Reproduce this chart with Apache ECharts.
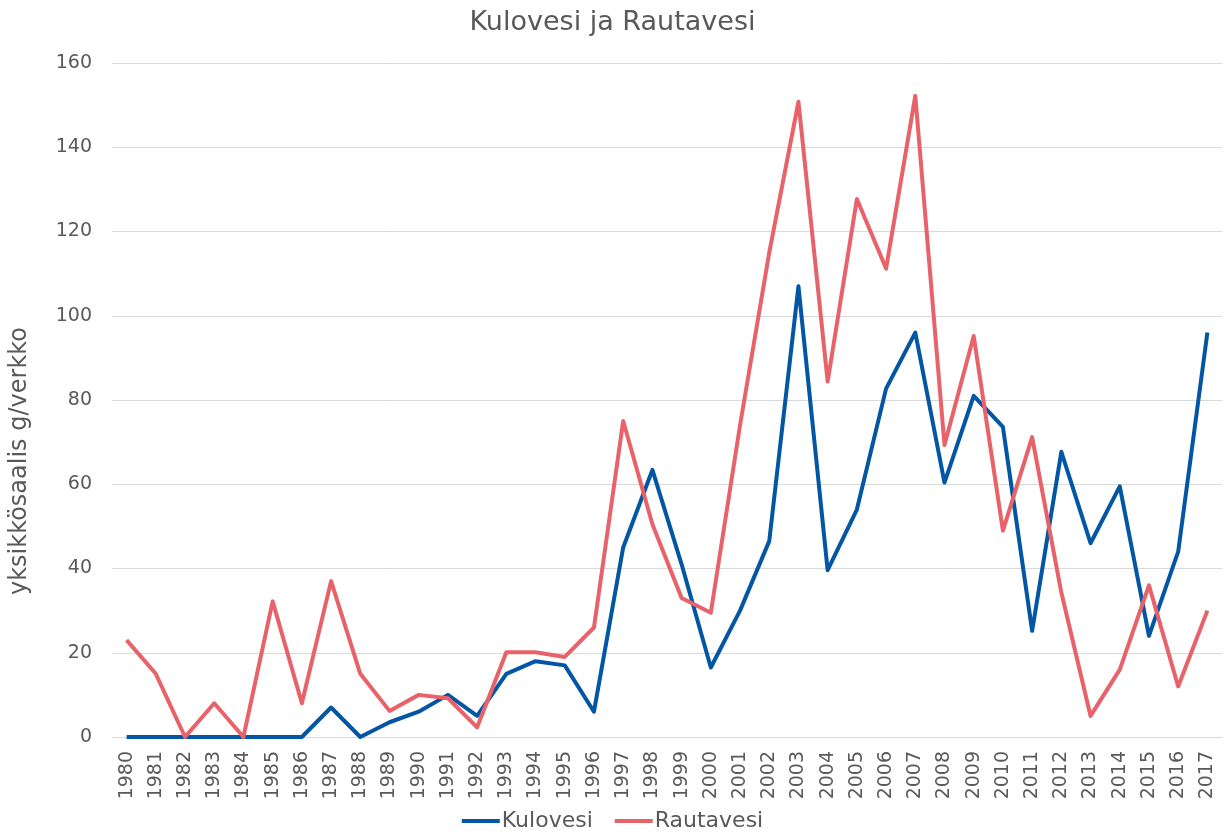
<!DOCTYPE html>
<html>
<head>
<meta charset="utf-8">
<script src="https://cdn.jsdelivr.net/npm/echarts@6/dist/echarts.min.js"></script>
<style>
  html, body { margin: 0; padding: 0; background: #fff; }
  #chart { width: 1225px; height: 839px; }
</style>
</head>
<body>
<div id="chart"></div>
<script>
// vuodet
var years = ['1980', '1981', '1982', '1983', '1984', '1985', '1986', '1987', '1988', '1989',
  '1990', '1991', '1992', '1993', '1994', '1995', '1996', '1997', '1998', '1999',
  '2000', '2001', '2002', '2003', '2004', '2005', '2006', '2007', '2008', '2009',
  '2010', '2011', '2012', '2013', '2014', '2015', '2016', '2017'];

var kulovesi = [0, 0, 0, 0, 0, 0, 0, 7, 0, 3.5,
  6, 10, 5, 15, 18, 17, 6, 45, 63.4, 41,
  16.5, 30, 46.5, 107, 39.6, 54, 82.7, 96, 60.4, 81,
  73.6, 25.2, 67.7, 46, 59.5, 24, 44, 96];

var rautavesi = [23, 15, 0, 8, 0, 32.2, 8, 37, 15, 6.2,
  10, 9.2, 2.3, 20.1, 20.1, 19, 26, 75, 50.5, 33,
  29.5, 74, 115, 150.8, 84.4, 127.7, 111.2, 152.2, 69.3, 95.2,
  49, 71.2, 34.3, 5, 16, 36, 12, 30];

var yTicks = { min: 0, max: 160, interval: 20 };

var textColor = '#595959';
var font = 'DejaVu Sans';

var myChart = echarts.init(document.getElementById('chart'));

var option = {
  animation: false,
  backgroundColor: '#fff',
  title: {
    text: 'Kulovesi ja Rautavesi',
    left: 'center',
    top: 4,
    padding: [5, 0, 5, 16],
    textStyle: { color: textColor, fontFamily: font, fontSize: 27, fontWeight: 'normal' }
  },
  legend: {
    bottom: 2,
    left: 'center',
    padding: [5, 0, 5, 18],
    icon: 'rect',
    itemWidth: 38,
    itemHeight: 4,
    itemGap: 22,
    textStyle: { color: textColor, fontFamily: font, fontSize: 22, padding: [0, 0, 0, -3] },
    data: ['Kulovesi', 'Rautavesi']
  },
  grid: {
    left: 112,
    right: 3,
    top: 63,
    bottom: 102,
    containLabel: false
  },
  xAxis: {
    type: 'category',
    data: years,
    boundaryGap: true,
    axisLine: { show: true, lineStyle: { color: '#d9d9d9', width: 1 } },
    axisTick: { show: false },
    axisLabel: {
      rotate: 90,
      interval: 0,
      margin: 14,
      color: textColor,
      fontFamily: font,
      fontSize: 19
    }
  },
  yAxis: {
    type: 'value',
    min: yTicks.min,
    max: yTicks.max,
    interval: yTicks.interval,
    name: 'yksikkösaalis g/verkko',
    nameLocation: 'middle',
    nameGap: 80,
    // nimi hieman keskikohdan alapuolella kuten alkuperäisessä
    nameTextStyle: { color: textColor, fontFamily: font, fontSize: 24, padding: [0, 122, 0, 0] },
    axisLine: { show: false },
    axisTick: { show: false },
    axisLabel: { color: textColor, fontFamily: font, fontSize: 19, margin: 20 },
    splitLine: { lineStyle: { color: '#d9d9d9', width: 1 } }
  },
  series: [
    {
      name: 'Kulovesi',
      type: 'line',
      data: kulovesi,
      symbol: 'none',
      itemStyle: { color: '#0356a3' },
      lineStyle: { color: '#0356a3', width: 4, join: 'round' }
    },
    {
      name: 'Rautavesi',
      type: 'line',
      data: rautavesi,
      symbol: 'none',
      itemStyle: { color: '#e8626a' },
      lineStyle: { color: '#e8626a', width: 4, join: 'round' }
    }
  ]
};

myChart.setOption(option);
</script>
</body>
</html>
